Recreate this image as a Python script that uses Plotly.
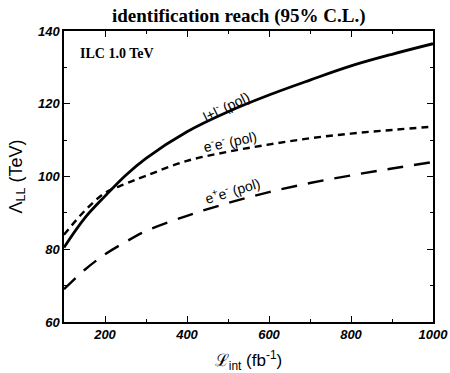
import plotly.graph_objects as go

lumi = [100, 150, 200, 250, 300, 400, 500, 600, 700, 800, 900, 1000]
ll_pol = [80.5, 88.5, 94.6, 100.3, 105, 112.3, 117.8, 122.4, 126.5, 130.4, 133.6, 136.5]
emem_pol = [84, 90.5, 95.5, 98, 100.2, 104.3, 106.8, 108.8, 110.5, 111.8, 112.8, 113.7]
epem_pol = [69, 74.3, 78.6, 82, 85, 89.2, 92.7, 95.7, 98.2, 100.3, 102.2, 104]

fig = go.Figure()
fig.add_trace(go.Scatter(x=lumi, y=ll_pol, mode="lines", line=dict(color="black", width=2.8, shape="spline")))
fig.add_trace(go.Scatter(x=lumi, y=emem_pol, mode="lines", line=dict(color="black", width=2.4, dash="7px,5px", shape="spline")))
fig.add_trace(go.Scatter(x=lumi, y=epem_pol, mode="lines", line=dict(color="black", width=2.4, dash="16px,11px", shape="spline")))

tickfont = dict(family="Liberation Sans", size=13, color="black", weight="bold", style="italic")
axcommon = dict(showgrid=False, zeroline=False, showline=True, linecolor="black", linewidth=1.5,
                mirror="allticks", ticks="inside", ticklen=6, tickcolor="black", tickwidth=1.2,
                tickfont=tickfont, automargin=False)
fig.update_xaxes(range=[100, 1000], tickvals=[200, 400, 600, 800, 1000],
                 minor=dict(ticks="inside", ticklen=3, tickcolor="black", dtick=100, tick0=0),
                 title=dict(text="ℒ<sub>int</sub> (fb<sup>-1</sup>)", font=dict(family="Liberation Sans", size=17, color="black"), standoff=13),
                 **axcommon)
fig.update_yaxes(range=[60, 140], tickvals=[60, 80, 100, 120, 140],
                 minor=dict(ticks="inside", ticklen=3, tickcolor="black", dtick=10, tick0=0),
                 title=dict(text="Λ<sub>LL</sub> (TeV)", font=dict(family="Liberation Sans", size=18, color="black"), standoff=11),
                 **axcommon)

annos = [
    dict(x=0.475, y=1.0, xref="paper", yref="paper", text="<b>identification reach (95% C.L.)</b>",
         showarrow=False, yanchor="bottom", yshift=2, font=dict(family="Liberation Serif", size=19, color="black")),
    dict(x=134, y=133.7, text="<b>ILC 1.0 TeV</b>", showarrow=False, xanchor="left",
         font=dict(family="Liberation Serif", size=14, color="black")),
    dict(x=495, y=119.5, text="l+l<sup>-</sup> (pol)", showarrow=False, textangle=-26,
         font=dict(family="Liberation Sans", size=14, color="black")),
    dict(x=505, y=109.8, text="e<sup>-</sup>e<sup>-</sup> (pol)", showarrow=False, textangle=-12,
         font=dict(family="Liberation Sans", size=14, color="black")),
    dict(x=512, y=96.4, text="e<sup>+</sup>e<sup>-</sup> (pol)", showarrow=False, textangle=-17,
         font=dict(family="Liberation Sans", size=14, color="black")),
]
fig.update_layout(width=450, height=373, margin=dict(l=64, r=17, t=31, b=51, autoexpand=False),
                  paper_bgcolor="white", plot_bgcolor="white", showlegend=False,
                  annotations=annos)
fig.write_html("out.html", config={"displayModeBar": False},
               post_script="document.body.style.margin='0';document.body.style.overflow='hidden';")
